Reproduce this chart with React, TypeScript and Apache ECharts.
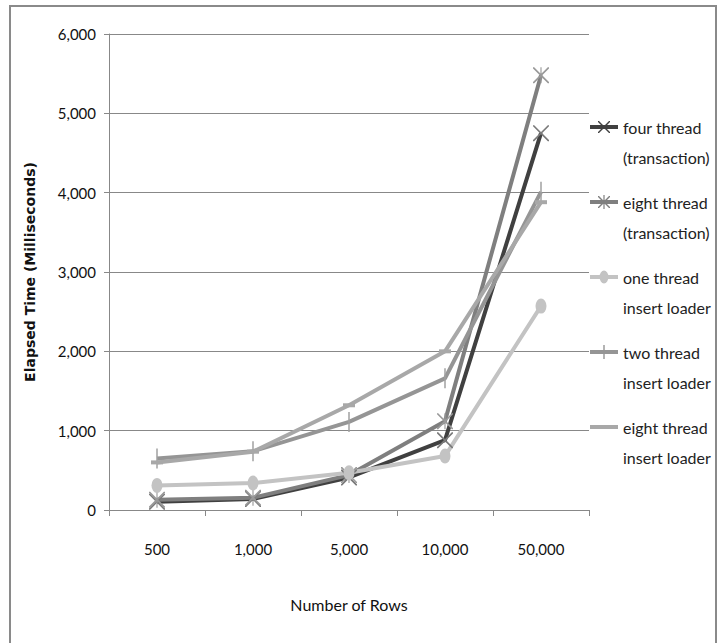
import React, { useEffect, useRef } from "react";
import * as echarts from "echarts";

const categories = ["500", "1,000", "5,000", "10,000", "50,000"];
const fourThreadTx = [105, 140, 410, 880, 4750];
const eightThreadTx = [130, 155, 440, 1120, 5480];
const oneThreadLoader = [310, 340, 470, 680, 2570];
const twoThreadLoader = [650, 740, 1110, 1660, 4010];
const eightThreadLoader = [600, 735, 1320, 2000, 3880];
const seriesNames = [
  "four thread\n(transaction)",
  "eight thread\n(transaction)",
  "one thread\ninsert loader",
  "two thread\ninsert loader",
  "eight thread\ninsert loader",
];

const FONT = 'Lato, "Liberation Sans", sans-serif';

const X_PATH = "path://M0,0L1.5,0L20,18.5L20,20L18.5,20L0,1.5Z M18.5,0L20,0L20,1.5L1.5,20L0,20L0,18.5Z";
const STAR_PATH = X_PATH + " M9.3,0L10.7,0L10.7,20L9.3,20Z";
const ELLIPSE_PATH = "path://M10,0A10,10 0 1,1 10,20A10,10 0 1,1 10,0Z";

// legend icons in a 28x14 box: line plus marker
const LINE = "M0,5L28,5L28,9L0,9Z";
const BOX = " M0,0L0.01,0L0.01,0.01L0,0.01Z M27.99,13.99L28,13.99L28,14L27.99,14Z";
const ICON_X = "path://" + LINE + " M8,1L9,1L20,12L20,13L19,13L8,2Z M19,1L20,1L20,2L9,13L8,13L8,12Z" + BOX;
const ICON_STAR = "path://" + LINE + " M8,1L9,1L20,12L20,13L19,13L8,2Z M19,1L20,1L20,2L9,13L8,13L8,12Z M13.4,0L14.6,0L14.6,14L13.4,14Z" + BOX;
const ICON_ELL = "path://" + LINE + " M14,0.5A4.5,6.5 0 1,1 14,13.5A4.5,6.5 0 1,1 14,0.5Z" + BOX;
const ICON_PLUS = "path://" + LINE + " M13.3,0L14.7,0L14.7,14L13.3,14Z" + BOX;
const ICON_LINE = "path://" + LINE + BOX;

export default function App() {
  const ref = useRef<HTMLDivElement>(null);
  useEffect(() => {
    const chart = echarts.init(ref.current!, null, { renderer: "svg" });
    const mk = (name: string, data: number[], color: string, symbol: string, size: any, symColor?: string) => ({
      name,
      type: "line",
      data,
      symbol,
      symbolSize: size,
      showSymbol: true,
      lineStyle: { color, width: 4 },
      itemStyle: { color: symColor || color },
      emphasis: { disabled: true },
    });
    chart.setOption({
      animation: false,
      backgroundColor: "#ffffff",
      grid: { left: 109, right: 131, top: 34, bottom: 133 },
      legend: {
        orient: "vertical",
        left: 590,
        top: 82,
        padding: 0,
        itemGap: -15,
        itemWidth: 28,
        itemHeight: 14,
        symbolKeepAspect: true,
        formatter: (name: string) => " \n" + name,
        textStyle: {
          fontFamily: FONT,
          fontSize: 16,
          lineHeight: 30,
          color: "#222",
        },
        data: [
          { name: seriesNames[0], icon: ICON_X, itemStyle: { color: "#404040" } },
          { name: seriesNames[1], icon: ICON_STAR, itemStyle: { color: "#7f7f7f" } },
          { name: seriesNames[2], icon: ICON_ELL, itemStyle: { color: "#c3c3c3" } },
          { name: seriesNames[3], icon: ICON_PLUS, itemStyle: { color: "#959595" } },
          { name: seriesNames[4], icon: ICON_LINE, itemStyle: { color: "#a8a8a8" } },
        ],
      },
      xAxis: {
        type: "category",
        data: categories,
        boundaryGap: true,
        axisLine: { lineStyle: { color: "#888", width: 1 } },
        axisTick: { show: true, length: 6, lineStyle: { color: "#888" } },
        axisLabel: { fontFamily: FONT, fontSize: 15, color: "#111", margin: 31 },
        name: "Number of Rows",
        nameLocation: "middle",
        nameGap: 86,
        nameTextStyle: { fontFamily: FONT, fontSize: 16, color: "#111" },
      },
      yAxis: {
        type: "value",
        min: 0,
        max: 6000,
        interval: 1000,
        axisLine: { show: true, lineStyle: { color: "#888", width: 1 } },
        axisTick: { show: true, length: 5, lineStyle: { color: "#888" } },
        axisLabel: {
          fontFamily: FONT,
          fontSize: 15,
          color: "#111",
          margin: 13,
          formatter: (v: number) => v.toLocaleString("en-US"),
        },
        splitLine: { show: true, lineStyle: { color: "#888", width: 1 } },
        name: "Elapsed Time (Milliseconds)",
        nameLocation: "middle",
        nameGap: 72,
        nameTextStyle: { fontFamily: '"DejaVu Sans", Verdana, sans-serif', fontSize: 14, fontWeight: "bold", color: "#111" },
      },
      graphic: [
        {
          type: "rect",
          shape: { x: 10, y: 6, width: 706, height: 700 },
          style: { fill: "none", stroke: "#8a8a8a", lineWidth: 2 },
          silent: true,
          z: -10,
        },
      ],
      series: [
        mk(seriesNames[0], fourThreadTx, "#404040", X_PATH, 16, "#7a7a7a"),
        mk(seriesNames[1], eightThreadTx, "#7f7f7f", STAR_PATH, 16, "#999999"),
        mk(seriesNames[2], oneThreadLoader, "#c3c3c3", ELLIPSE_PATH, [11, 15]),
        mk(seriesNames[3], twoThreadLoader, "#959595", "rect", [1.5, 20], "#a0a0a0"),
        mk(seriesNames[4], eightThreadLoader, "#a8a8a8", "rect", [12, 4]),
      ],
    });
    return () => chart.dispose();
  }, []);
  return (
    <div
      ref={ref}
      style={{ position: "fixed", left: 0, top: 0, width: 720, height: 643, background: "#fff" }}
    />
  );
}
